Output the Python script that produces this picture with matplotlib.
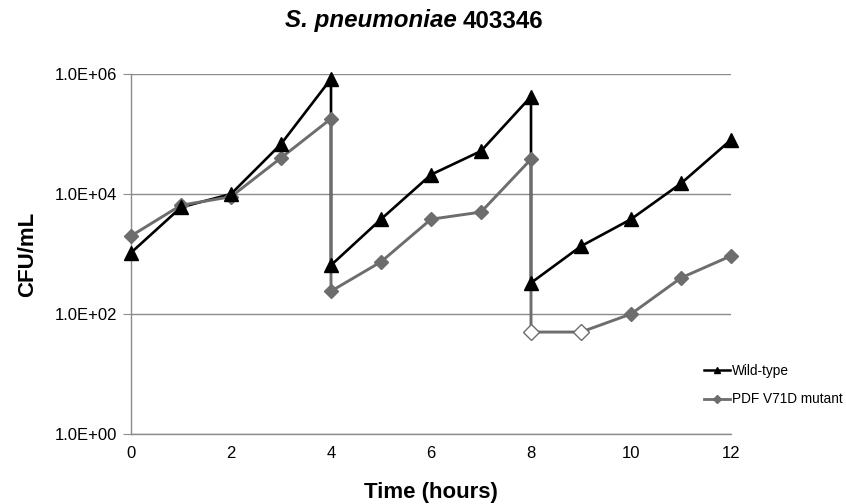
import matplotlib
matplotlib.use("Agg")
import matplotlib.pyplot as plt
from matplotlib.lines import Line2D

plt.rcParams['font.family'] = ['Liberation Sans', 'DejaVu Sans']

# Data
wt_time = [0, 1, 2, 3, 4, 4, 5, 6, 7, 8, 8, 9, 10, 11, 12]
wt_cfu = [1050, 6000, 1.0e4, 6.8e4, 8.3e5, 650, 3800, 2.1e4, 5.2e4, 4.2e5, 330, 1350, 3800, 1.5e4, 8.0e4]

mut_time = [0, 1, 2, 3, 4, 4, 5, 6, 7, 8, 8, 9, 10, 11, 12]
mut_cfu = [2000, 6500, 9000, 4.0e4, 1.8e5, 240, 740, 3800, 5000, 3.8e4, 50, 50, 100, 400, 930]
mut_below_limit = [False, False, False, False, False, False, False, False, False, False, True, True, False, False, False]

xticks = [0, 2, 4, 6, 8, 10, 12]
yticks = [1, 1e2, 1e4, 1e6]
ytick_labels = ["1.0E+00", "1.0E+02", "1.0E+04", "1.0E+06"]

wt_color = "#000000"
mut_color = "#6d6d6d"
grid_color = "#8c8c8c"

fig = plt.figure(figsize=(8.46, 5.04), dpi=100)
ax = fig.add_axes([131/846, 1-434/504, 600/846, 360/504])

ax.set_yscale('log')
ax.set_ylim(1, 1e6)
ax.set_xlim(0, 12)

# lines (mutant line above wild-type line)
ax.plot(wt_time, wt_cfu, color=wt_color, lw=1.9, zorder=3, clip_on=False)
ax.plot(mut_time, mut_cfu, color=mut_color, lw=2.1, zorder=4, clip_on=False)

# markers on top
ax.plot(wt_time, wt_cfu, ls='none', marker='^', ms=9.5,
        mfc=wt_color, mec=wt_color, zorder=6, clip_on=False)
fx = [t for t, b in zip(mut_time, mut_below_limit) if not b]
fy = [v for v, b in zip(mut_cfu, mut_below_limit) if not b]
hx = [t for t, b in zip(mut_time, mut_below_limit) if b]
hy = [v for v, b in zip(mut_cfu, mut_below_limit) if b]
ax.plot(fx, fy, ls='none', marker='D', ms=7.5, mfc=mut_color, mec=mut_color, zorder=5, clip_on=False)
ax.plot(hx, hy, ls='none', marker='D', ms=8, mfc='white', mec=mut_color, mew=1.0, zorder=5, clip_on=False)

ax.set_yticks(yticks)
ax.set_yticklabels(ytick_labels)
ax.yaxis.set_minor_locator(matplotlib.ticker.NullLocator())
ax.set_xticks(xticks)
ax.set_xticklabels([str(x) for x in xticks])

for s in ['top', 'right']:
    ax.spines[s].set_visible(False)
for s in ['left', 'bottom']:
    ax.spines[s].set_color(grid_color)
    ax.spines[s].set_linewidth(1.0)

ax.tick_params(axis='y', direction='out', length=6, color=grid_color, labelsize=12, pad=4)
ax.tick_params(axis='x', length=0, labelsize=12, pad=9)
ax.yaxis.grid(True, color=grid_color, lw=1.0)
ax.set_axisbelow(True)

ax.set_ylabel("CFU/mL", fontsize=16, fontweight='bold', labelpad=12)
ax.set_xlabel("Time (hours)", fontsize=16, fontweight='bold', labelpad=15)

handles = [Line2D([], [], color=wt_color, lw=1.8, marker='^', ms=5),
           Line2D([], [], color=mut_color, lw=2.0, marker='D', ms=4.5)]
fig.legend(handles, ["Wild-type", "PDF V71D mutant"], loc='upper left',
           bbox_to_anchor=(704/846, 1-364/504), frameon=False, fontsize=9.8,
           handlelength=1.9, handletextpad=0.15, labelspacing=1.05, borderaxespad=0, borderpad=0)

# Title: italic species name + bold strain
fig.canvas.draw()
r = fig.canvas.get_renderer()
ty = 1 - 21/504
t1 = fig.text(285/846, ty, "S. pneumoniae", fontsize=17.4, fontweight='bold',
              fontstyle='italic', ha='left', va='center')
bb = t1.get_window_extent(renderer=r)
sp = 6
fig.text((bb.x1 + sp)/846, ty, "403346", fontsize=17.4, fontweight='bold',
         ha='left', va='center')

fig.savefig("out.png", dpi=100)
